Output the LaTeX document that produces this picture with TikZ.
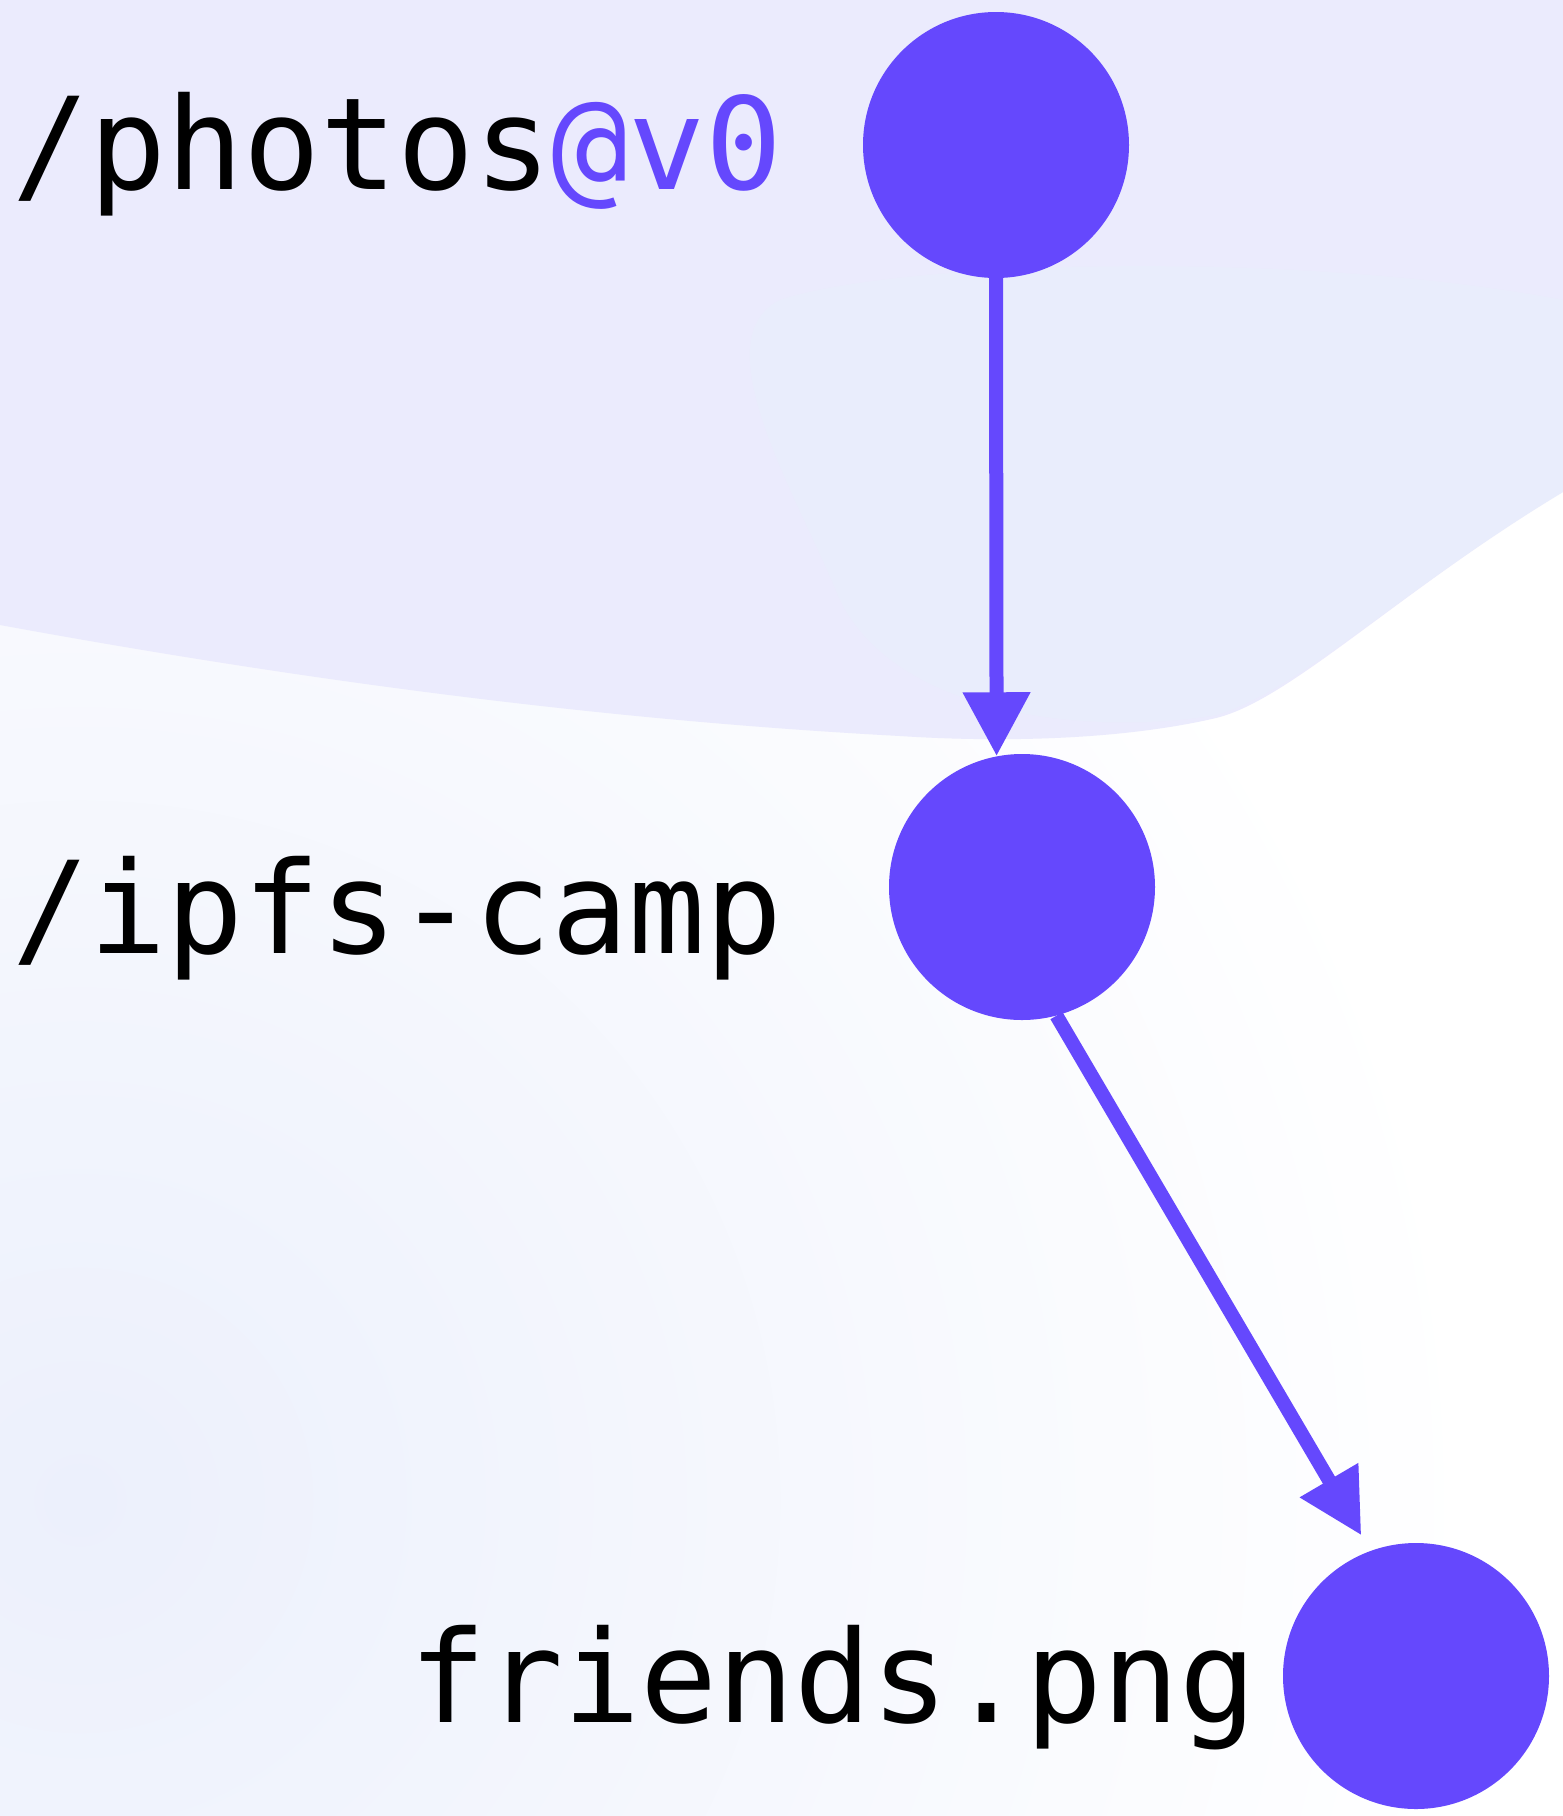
\documentclass[tikz,border=0pt]{standalone}
\usepackage{fontspec}
\setmonofont{DejaVu Sans Mono}
\usetikzlibrary{arrows.meta,positioning}
\definecolor{ipfspurple}{HTML}{6548FD}
\definecolor{bgtop}{HTML}{EBEBFD}
\definecolor{bgblue}{HTML}{E9EFFC}
\definecolor{bgleft}{HTML}{ECF0FC}

\begin{document}
\begin{tikzpicture}[x=1pt,y=-1pt,
  every node/.style={inner sep=0pt},
  dirnode/.style={circle, fill=ipfspurple, minimum size=266pt},
  pathlabel/.style={font=\fontsize{128}{150}\selectfont\ttfamily, anchor=base west},
  link/.style={draw=ipfspurple, line width=14pt, -{Triangle[length=64pt,width=64pt]}},
  ]
  % background
  \fill[white] (0,0) rectangle (1563,1816);
  \useasboundingbox (0,0) rectangle (1563,1816);
  \begin{scope}
    \clip (0,0) rectangle (1563,1816);
    \shade[inner color=bgleft, outer color=white] (80,1500) circle (1400);
  \end{scope}
  \fill[bgtop] (0,0) -- (1563,0) -- (1563,492)
    .. controls (1400,590) and (1290,700) .. (1216,718)
    .. controls (1100,745) and (960,740) .. (900,736)
    .. controls (600,720) and (300,680) .. (0,625) -- cycle;
  \fill[bgblue, opacity=.6] (780,300)
    .. controls (900,260) and (1300,250) .. (1563,300)
    -- (1563,492)
    .. controls (1400,590) and (1300,690) .. (1216,715)
    .. controls (1100,735) and (900,720) .. (840,600)
    .. controls (800,500) and (700,340) .. (780,300) -- cycle;

  % tree
  \node[dirnode] (photos) at (996,145) {};
  \node[dirnode] (ipfs) at (1022,887) {};
  \node[dirnode] (friends) at (1416,1676) {};

  \node[pathlabel] (photoslabel) at (12,189) {/photos{\color{ipfspurple}@v0}};
  \node[pathlabel] (ipfslabel) at (12,953) {/ipfs-camp};
  \node[pathlabel] (friendslabel) at (409,1722) {friends.png};

  \draw[link] (photos.south) -- (ipfs.101.5);
  \draw[link, shorten >=18pt] (ipfs.-75) -- (friends.110.5);
\end{tikzpicture}
\end{document}
